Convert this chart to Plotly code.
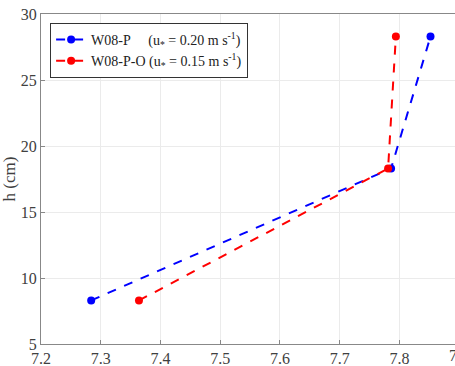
import plotly.graph_objects as go

h = [8.3, 18.3, 28.3]
ph_p = [7.284, 7.786, 7.852]
ph_po = [7.364, 7.781, 7.794]
names = ["W08-P&nbsp;&nbsp;&nbsp;&nbsp;&nbsp;(u<sub>*</sub> = 0.20 m s<sup>-1</sup>)",
         "W08-P-O (u<sub>*</sub> = 0.15 m s<sup>-1</sup>)"]
colors = ["#0000ff", "#ff0000"]
xticks = [7.2, 7.3, 7.4, 7.5, 7.6, 7.7, 7.8]
yticks = [5, 10, 15, 20, 25, 30]

SERIF = "Liberation Serif, Times New Roman, serif"

fig = go.Figure()
for xs, nm, c in zip([ph_p, ph_po], names, colors):
    fig.add_trace(go.Scatter(x=xs, y=h, mode="lines+markers", name=nm,
                             line=dict(color=c, width=2, dash="dash"),
                             marker=dict(color=c, size=8)))

x0, x1 = 7.2, 7.893
fig.update_layout(
    width=455, height=366,
    margin=dict(l=41, r=0, t=14, b=22),
    paper_bgcolor="white", plot_bgcolor="white",
    font=dict(family=SERIF, size=16, color="#404040"),
    showlegend=True,
    legend=dict(x=0.022, y=0.973, xanchor="left", yanchor="top",
                bordercolor="#333333", borderwidth=1, bgcolor="white",
                font=dict(family=SERIF, size=14, color="#222222"), tracegroupgap=0,
                itemwidth=30),
    xaxis=dict(range=[x0, x1], tickvals=xticks, ticktext=[f"{v:.1f}" for v in xticks],
               showgrid=True, gridcolor="#ebebeb", gridwidth=1,
               showline=True, linecolor="#888888", linewidth=1, mirror=True,
               ticks="inside", ticklen=4, tickcolor="#888888", zeroline=False,
               tickfont=dict(family=SERIF, size=16, color="#404040")),
    yaxis=dict(range=[5, 30], tickvals=yticks, showgrid=True, gridcolor="#ebebeb",
               showline=True, linecolor="#888888", linewidth=1, mirror=True,
               ticks="inside", ticklen=4, tickcolor="#888888", zeroline=False,
               tickfont=dict(family=SERIF, size=16, color="#404040"),
               title=dict(text="h (cm)", standoff=6, font=dict(family=SERIF, size=17))),
)
fig.add_annotation(x=(7.9 - x0) / (x1 - x0), y=0, xref="paper", yref="paper",
                   text="7.9", showarrow=False, xanchor="center", yanchor="top", yshift=-1,
                   font=dict(family=SERIF, size=16, color="#404040"))
fig.write_html("out.html")
